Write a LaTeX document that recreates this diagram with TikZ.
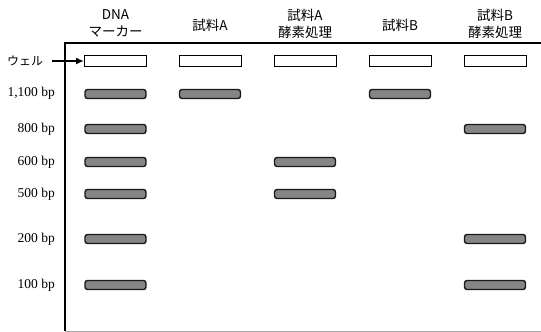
\documentclass[tikz,border=0pt]{standalone}
\usepackage{fontspec}
\usetikzlibrary{arrows.meta}
\setmainfont{Liberation Serif}
\newfontfamily\jp{Noto Sans CJK JP}
\begin{document}
\begin{tikzpicture}[x=1pt,y=-1pt,
  band/.style={draw=black!90,line width=1.4pt,fill=black!48,rounded corners=2.5pt,minimum width=61pt,minimum height=9pt,inner sep=0pt},
  well/.style={draw=black,line width=1pt,fill=white,minimum width=62pt,minimum height=11.5pt,inner sep=0pt},
  head/.style={font=\jp\fontsize{13.5}{17}\selectfont,align=center,inner sep=0pt},
  bp/.style={font=\fontsize{13.5}{15}\selectfont,anchor=east,inner sep=0pt}]
\useasboundingbox (0,0) rectangle (541,332);
% frame
\draw[line width=1.1pt] (541,43) -- (65,43) -- (65,331);
\draw[black!35,line width=0.6pt] (65,331) -- (541,331);
% headers
\node[head] (h1) at (115.5,23.5) {DNA\\マーカー};
\node[head] (h2) at (210,25) {試料A};
\node[head] (h3) at (305,23.5) {試料A\\酵素処理};
\node[head] (h4) at (400,25) {試料B};
\node[head] (h5) at (495,23.5) {試料B\\酵素処理};
% wells
\node[well] (w1) at (115.5,61) {};
\node[well] (w2) at (210,61) {};
\node[well] (w3) at (305,61) {};
\node[well] (w4) at (400,61) {};
\node[well] (w5) at (495,61) {};
\node[font=\jp\fontsize{12}{14}\selectfont,anchor=west,inner sep=0pt] (wl) at (7,61) {ウェル};
\coordinate (as) at (52,61);
\draw[line width=2pt,-{Latex[length=8pt,width=7pt]}] (as) -- (w1.west);
% size labels
\node[bp] (l1) at (55,93.5) {1,100 bp};
\node[bp] (l2) at (55,129) {800 bp};
\node[bp] (l3) at (55,162) {600 bp};
\node[bp] (l4) at (55,194) {500 bp};
\node[bp] (l5) at (55,239) {200 bp};
\node[bp] (l6) at (55,285) {100 bp};
% marker lane
\node[band] (m1) at (115.5,94) {};
\node[band] (m2) at (115.5,129) {};
\node[band] (m3) at (115.5,162) {};
\node[band] (m4) at (115.5,194) {};
\node[band] (m5) at (115.5,239) {};
\node[band] (m6) at (115.5,285) {};
% sample A
\node[band] (a1) at (210,94) {};
% sample A digested
\node[band] (ad1) at (305,162) {};
\node[band] (ad2) at (305,194) {};
% sample B
\node[band] (b1) at (400,94) {};
% sample B digested
\node[band] (bd1) at (495,129) {};
\node[band] (bd2) at (495,239) {};
\node[band] (bd3) at (495,285) {};
\end{tikzpicture}
\end{document}
